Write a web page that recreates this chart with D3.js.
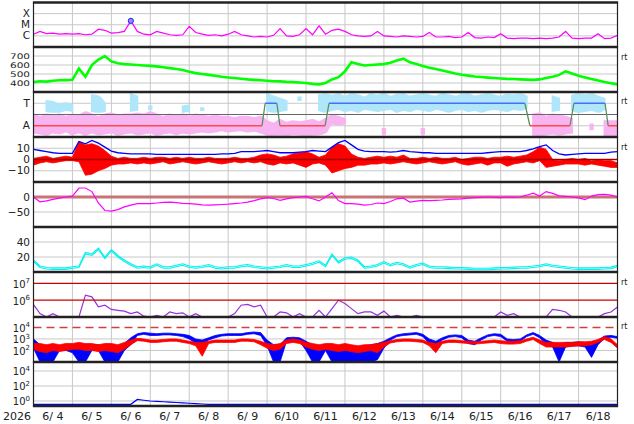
<!DOCTYPE html>
<html lang="en">
<head>
<meta charset="UTF-8">
<title>Space weather summary</title>
<script src="https://d3js.org/d3.v7.min.js"></script>
<style>
  body { margin: 0; background: #fff; }
  text { font-family: "DejaVu Sans", sans-serif; fill: #222; }
</style>
</head>
<body>
<div id="chart"></div>
<script>
// time axis: 15 days from 6/4, one sample every 4 hours (91 samples)
const year = "2026";
const dayLabels = ["6/ 4","6/ 5","6/ 6","6/ 7","6/ 8","6/ 9","6/10","6/11","6/12","6/13","6/14","6/15","6/16","6/17","6/18"];

// X-ray flux, log10 W/m2
const xrayLog = [
  -5.85,-5.6,-5.8,-5.75,-5.85,-5.8,
  -5.85,-5.8,-5.9,-5.85,-5.4,-5.5,
  -5.75,-5.7,-5.6,-4.65,-5.6,-5.85,
  -5.9,-5.6,-5.75,-5.9,-5.95,-5.9,
  -5.15,-5.7,-5.85,-5.95,-5.9,-6.0,
  -5.85,-5.6,-5.9,-6.0,-6.1,-6.05,
  -6.1,-5.95,-5.35,-6.0,-6.05,-5.9,
  -5.35,-5.9,-5.1,-5.85,-5.5,-5.4,
  -5.6,-5.9,-6.0,-6.05,-6.0,-5.6,
  -6.0,-6.05,-6.1,-6.0,-6.05,-6.1,
  -6.05,-5.7,-6.1,-6.1,-6.05,-6.15,
  -6.1,-5.7,-6.15,-6.2,-6.1,-6.15,
  -5.8,-6.2,-6.25,-6.2,-6.2,-6.25,
  -6.2,-6.25,-6.2,-6.1,-5.6,-6.2,
  -6.25,-6.2,-6.2,-5.8,-6.25,-6.2,-5.95
];

// solar wind speed, km/s
const speed = [
  410,420,415,425,430,432,
  435,560,470,600,660,700,
  640,620,610,605,600,595,
  590,585,575,565,555,545,
  525,510,500,490,480,470,
  462,455,448,440,435,430,
  425,420,418,412,410,405,
  400,390,385,400,440,465,
  530,630,610,595,600,605,
  610,625,650,670,630,610,
  590,570,555,540,522,505,
  492,482,472,466,460,455,
  450,446,444,440,437,435,
  440,455,470,490,530,505,
  480,462,445,428,412,398,385
];

// IMF sector clouds (0 = bottom, 1 = top of panel); null = none
const towardHi = [
  null,null,0.8,0.78,0.72,0.75, 0.7,null,null,0.93,0.9,0.75,
  null,null,null,0.95,0.9,null, 0.7,null,null,null,null,0.68,
  0.7,null,0.66,null,null,null, null,null,null,null,null,null,
  0.95,0.9,0.85,0.8,null,0.9, null,null,0.93,0.95,0.92,0.95,
  0.9,0.95,0.93,0.88,0.95,0.92, 0.96,0.9,0.94,0.95,0.9,0.93,
  0.95,0.92,0.9,0.96,0.93,0.9, 0.94,0.95,0.9,0.93,0.95,0.92,
  0.9,0.94,0.93,0.95,0.9,null, null,null,0.9,0.85,null,0.92,
  0.95,0.93,0.95,0.9,0.85,null,null
];
const towardLo = [
  null,null,0.58,0.56,0.56,0.6, 0.58,null,null,0.58,0.56,0.58,
  null,null,null,0.58,0.6,null, 0.6,null,null,null,null,0.56,
  0.58,null,0.58,null,null,null, null,null,null,null,null,null,
  0.6,0.56,0.58,0.6,null,0.8, null,null,0.6,0.56,0.6,0.62,
  0.58,0.6,0.56,0.62,0.6,0.58, 0.6,0.62,0.56,0.6,0.58,0.62,
  0.6,0.58,0.62,0.6,0.56,0.6, 0.62,0.58,0.6,0.56,0.6,0.62,
  0.6,0.58,0.62,0.6,0.65,null, null,null,0.58,0.6,null,0.6,
  0.56,0.58,0.6,0.56,0.62,null,null
];
const awayHi = [
  0.5,0.45,0.5,0.48,0.5,0.45, 0.5,0.48,0.55,0.5,0.45,0.5,
  0.52,0.48,0.5,0.5,0.52,0.5, 0.55,0.5,0.45,0.5,0.48,0.5,
  0.45,0.5,0.48,0.45,0.47,0.45, 0.45,0.42,0.45,0.45,0.42,0.45,
  0.35,0.3,0.38,0.32,0.35,0.33, 0.35,0.38,0.33,0.4,0.48,0.45,
  0.4,null,null,null,null,null, 0.2,null,null,null,null,null,
  0.2,null,null,null,null,null, null,null,null,null,null,null,
  null,null,null,null,null,0.5, 0.52,0.45,0.5,0.48,0.45,0.4,
  null,null,0.3,null,0.35,0.35,0.35
];
const awayLo = [
  0.1,0.08,0.05,0.1,0.08,0.12, 0.06,0.1,0.05,0.1,0.06,0.08,
  0.1,0.05,0.08,0.1,0.06,0.08, 0.1,0.05,0.08,0.1,0.06,0.1,
  0.08,0.1,0.12,0.1,0.12,0.15, 0.12,0.14,0.15,0.12,0.14,0.1,
  0.05,0.04,0.05,0.04,0.06,0.05, 0.04,0.05,0.06,0.1,0.3,0.28,
  0.3,null,null,null,null,null, 0.05,null,null,null,null,null,
  0.05,null,null,null,null,null, null,null,null,null,null,null,
  null,null,null,null,null,0.05, 0.04,0.05,0.08,0.05,0.08,0.1,
  null,null,0.15,null,0.04,0.04,0.04
];
// sector step line: time (days) and sector
const sectorTimes = [0,5.87,5.95,6.25,6.33,7.49,7.59,12.62,12.75,13.78,13.88,14.68,14.76,15];
const sectorValues = ["A","A","T","T","A","A","T","T","A","A","T","T","A","A"];

// IMF total field Bt and Bz range (nT)
const bt = [
  9,8,7,6,5.5,5.5,
  5.5,16,14,17,14.5,11,
  7.5,6,5.5,5,5,5,
  5,4.5,4.5,4.5,4.5,4.5,
  4.5,4.5,4.5,4.5,4.5,5,
  5,5.5,7,7,7,7.5,
  8,7,6,6,6,6.5,
  7,8,7.5,7,11,15,
  17,13,9,7.5,7,7,
  7,6.5,7,8,7,6.5,
  6,6,5.5,5.5,5.5,5.5,
  5.5,5.5,5.5,5.5,6,6.5,
  7,7,7,7,8,9.5,
  11.5,13,8,5,4,4.5,
  5,5.5,5.5,5.5,5.5,6.5,7
];
const bzMax = [
  1,2,3,1,2,3,
  2,16,13,14,12,8,
  3,1,2,1,1,2,
  1,2,2,1,2,1,
  2,1,1,2,1,1,
  1,2,1,1,2,4,
  5,4,2,3,5,6,
  7,5,2,4,11,14,
  12,5,2,1,2,3,
  2,3,2,4,1,1,
  2,1,2,1,1,2,
  0,1,2,2,1,2,
  2,3,2,3,4,7,
  11,9,0,-1,0,1,
  0,1,-1,0,-1,-1,-3
];
const bzMin = [
  -5,-3,-2,-3,-2,-1,
  -1,-2,-14,-13,-10,-8,
  -5,-4,-4,-3,-4,-3,
  -4,-3,-2,-4,-3,-2,
  -3,-4,-3,-2,-3,-4,
  -3,-2,-3,-2,-3,-2,
  -4,-5,-3,-4,-3,-5,
  -7,-4,-3,-5,-12,-10,
  -8,-7,-5,-5,-4,-4,
  -3,-4,-3,-2,-3,-4,
  -3,-2,-3,-4,-3,-2,
  -4,-5,-4,-3,-5,-3,
  -3,-6,-4,-3,-2,-3,
  -1,-7,-6,-5,-4,-4,
  -4,-5,-4,-5,-6,-7,-7
];

// Dst index, nT
const dst = [
  0,-16,-13,-8,-4,0,
  3,30,30,18,-20,-45,
  -47,-42,-33,-27,-22,-22,
  -22,-20,-18,-17,-19,-21,
  -22,-24,-26,-27,-26,-25,
  -24,-22,-20,-17,-12,-6,
  -2,-5,-11,-6,-2,0,
  2,-6,-13,0,14,-12,
  -22,-22,-24,-27,-25,-20,
  -22,-15,-6,-4,-17,-14,
  -11,-12,-11,-10,-8,-7,
  -6,-4,-2,-1,0,-1,
  -2,0,-1,0,6,13,
  3,18,12,4,2,0,
  -3,-9,3,8,9,6,0
];

// proton density panel
const density = [
  14,6,4,3.5,3.5,3.5,
  5,6,24,22,30,18,
  28,20,14,9,5,6,
  5,9,5,5,7,9,
  6,5,6,8,5,4,
  5,5,7,8,6,5,
  4,5,6,8,6,6,
  8,10,13,7,22,12,
  17,18,14,5,6,8,
  12,8,11,9,5,8,
  10,6,5,5,4.5,4,
  4,3.5,3,3,3,3.5,
  4,4,4.5,5,5,6,
  7,9,7,6,5,4,
  3.5,3.5,3.5,3.5,4,4.5,7
];

// electron fluence, log10
const fluenceLog = [
  5.74,5.2,4.9,5.2,4.9,4.9,
  4.9,4.9,6.3,6.2,5.6,5.7,
  5.45,5.4,5.35,5.2,5.3,5.05,
  4.9,5.1,4.9,5.3,5.2,5.25,
  4.9,5.2,4.9,4.9,4.9,4.9,
  4.9,5.2,5.7,5.75,5.6,5.7,
  4.9,4.9,5.3,5.25,4.9,5.2,
  4.9,4.9,5.4,4.9,5.5,6.0,
  5.8,5.5,5.2,5.3,5.3,5.1,
  5.35,4.9,5.1,4.9,4.9,5.1,
  4.9,4.9,4.9,4.9,4.9,4.9,
  5.0,4.9,4.9,4.9,4.9,4.9,
  5.3,5.1,5.2,4.9,4.9,4.9,
  4.9,4.9,5.45,5.4,5.3,4.9,
  4.9,4.9,4.9,4.9,5.2,5.3,5.6
];

// electron flux (blue) and second channel (red), log10 range per sample
const fluxBlueMax = [
  3.0,2.5,2.4,2.4,2.4,2.4,
  2.4,2.4,2.5,2.5,2.5,2.4,
  2.4,2.4,2.6,3.1,3.45,3.55,
  3.5,3.45,3.5,3.5,3.45,3.4,
  3.3,3.0,2.9,3.1,3.3,3.4,
  3.45,3.45,3.45,3.55,3.6,3.55,
  2.9,2.5,2.5,3.1,3.15,3.1,
  2.8,2.5,2.4,2.5,2.5,2.4,
  2.4,2.4,2.3,2.4,2.5,2.6,
  2.8,3.1,3.35,3.45,3.5,3.55,
  3.4,3.0,2.8,3.1,3.3,3.35,
  3.3,2.9,2.8,3.1,3.35,3.45,
  3.4,3.0,2.95,3.0,3.35,3.55,
  3.3,2.9,2.7,2.5,2.7,2.7,
  2.75,2.7,2.5,2.9,3.25,3.3,3.2
];
const fluxBlueMin = [
  2.2,1.0,1.0,1.0,2.0,2.0,
  1.8,1.0,1.0,2.0,2.0,1.0,
  1.0,1.0,2.0,2.5,3.3,3.4,
  3.3,3.3,3.35,3.35,3.3,3.2,
  3.0,2.6,2.4,2.9,3.1,3.25,
  3.3,3.3,3.3,3.4,3.45,3.3,
  2.4,1.0,1.0,2.8,2.9,2.8,
  2.0,1.0,1.0,2.0,1.0,1.0,
  1.0,1.0,1.0,1.0,1.0,1.2,
  2.2,2.9,3.2,3.3,3.35,3.4,
  3.2,2.6,2.4,2.9,3.15,3.2,
  3.1,2.6,2.5,2.9,3.2,3.3,
  3.2,2.8,2.7,2.8,3.2,3.4,
  3.1,2.5,2.3,1.0,2.3,2.4,
  2.4,2.3,1.4,2.5,3.05,3.15,3.05
];
const fluxRedMax = [
  2.6,2.6,2.5,2.6,2.5,2.6,
  2.6,2.7,2.6,2.6,2.5,2.6,
  2.6,2.5,2.7,2.9,3.05,3.0,
  2.9,2.9,2.95,3.0,3.0,2.9,
  2.8,2.7,2.7,2.8,2.9,2.9,
  2.9,2.9,3.0,3.0,2.95,2.8,
  2.6,2.5,2.6,2.9,3.0,2.9,
  2.7,2.6,2.5,2.6,2.6,2.5,
  2.6,2.5,2.4,2.5,2.5,2.6,
  2.7,2.85,2.95,3.0,3.0,2.95,
  2.9,2.7,2.6,2.8,2.9,2.9,
  2.85,2.8,2.75,2.8,2.85,2.9,
  2.85,2.8,2.8,2.85,3.0,3.15,
  2.9,2.7,2.7,2.7,2.7,2.7,
  2.75,2.75,2.8,2.95,3.2,3.0,2.5
];
const fluxRedMin = [
  2.1,1.9,1.8,2.0,1.9,2.0,
  2.1,2.1,2.0,2.0,1.9,2.0,
  1.9,1.8,2.1,2.5,2.85,2.8,
  2.7,2.7,2.75,2.8,2.8,2.7,
  2.6,2.4,1.5,2.6,2.7,2.7,
  2.7,2.7,2.8,2.8,2.75,2.5,
  2.2,2.0,2.1,2.6,2.7,2.6,
  2.3,2.1,2.0,2.1,2.0,1.9,
  2.0,1.9,1.8,1.9,2.0,1.8,
  2.3,2.65,2.75,2.8,2.8,2.75,
  2.7,2.4,1.8,2.6,2.7,2.7,
  2.65,2.6,2.55,2.6,2.65,2.7,
  2.6,2.55,2.55,2.6,2.8,2.95,
  2.6,2.3,2.3,2.3,2.3,2.35,
  2.4,2.4,2.5,2.7,2.95,2.7,2.2
];

// bottom panel flux, log10
const lowFluxLog = [
  -0.45,-0.45,-0.45,-0.45,-0.45,-0.45,
  -0.45,-0.45,-0.45,-0.45,-0.45,-0.45,
  -0.45,-0.45,-0.45,-0.45,0.2,0.1,
  0.0,-0.05,-0.1,-0.15,-0.2,-0.25,
  -0.3,-0.35,-0.4,-0.45,-0.45,-0.45,
  -0.45,-0.45,-0.45,-0.45,-0.45,-0.45,
  -0.45,-0.45,-0.45,-0.45,-0.45,-0.45,
  -0.45,-0.45,-0.45,-0.45,-0.45,-0.45,
  -0.45,-0.45,-0.45,-0.45,-0.45,-0.45,
  -0.45,-0.45,-0.45,-0.45,-0.45,-0.45,
  -0.45,-0.45,-0.45,-0.45,-0.45,-0.45,
  -0.45,-0.45,-0.45,-0.45,-0.45,-0.45,
  -0.45,-0.45,-0.45,-0.45,-0.45,-0.45,
  -0.45,-0.45,-0.45,-0.45,-0.45,-0.45,
  -0.45,-0.45,-0.45,-0.45,-0.45,-0.45,-0.45
];

const width = 634, height = 424;
const tops = [2.5, 47, 92, 137, 182, 227, 272, 317, 362, 406];
const stepDays = 1 / 6;

const svg = d3.select("#chart").append("svg")
    .attr("width", width).attr("height", height);

const x = d3.scaleLinear().domain([0, 15]).range([33.5, 617.5]);
const tOf = i => i * stepDays;
const pw = 10;

// y scales, one per panel
const yr = p => [tops[p + 1], tops[p]];
const y = [
  d3.scaleLog().domain([1e-7, 1e-3]).range(yr(0)),
  d3.scaleLinear().domain([300, 800]).range(yr(1)),
  d3.scaleLinear().domain([0, 1]).range(yr(2)),
  d3.scaleLinear().domain([-20, 20]).range(yr(3)),
  d3.scaleLinear().domain([-100, 50]).range(yr(4)),
  d3.scaleLinear().domain([0, 60]).range(yr(5)),
  d3.scaleLog().domain([1e5, Math.pow(pw, 7.68)]).range(yr(6)).clamp(true),
  d3.scaleLog().domain([10, Math.pow(pw, 4.9)]).range(yr(7)).clamp(true),
  d3.scaleLog().domain([Math.pow(pw, -0.67), Math.pow(pw, 5.2)]).range(yr(8)).clamp(true)
];

// clip paths
const defs = svg.append("defs");
y.forEach((s, p) => {
  defs.append("clipPath").attr("id", "clip" + p)
    .append("rect").attr("x", x(0)).attr("y", tops[p])
    .attr("width", x(15) - x(0)).attr("height", tops[p + 1] - tops[p]);
});

// vertical day grid
const grid = svg.append("g");
grid.selectAll("line.v").data(d3.range(1, 15)).join("line")
    .attr("x1", d => x(d)).attr("x2", d => x(d))
    .attr("y1", tops[0]).attr("y2", tops[9])
    .attr("stroke", "#c8c8c8").attr("stroke-width", 1);

// horizontal grid per panel
const hgrid = [
  [1e-6, 1e-5, 1e-4], [400, 500, 600, 700], [0.25, 0.75], [-10, 10],
  [-50], [20, 40], [], [100, 1000], [1, 100, 10000]
];
hgrid.forEach((vals, p) => {
  grid.selectAll("line.h" + p).data(vals).join("line")
    .attr("x1", x(0)).attr("x2", x(15))
    .attr("y1", d => y[p](d)).attr("y2", d => y[p](d))
    .attr("stroke", "#c8c8c8").attr("stroke-width", 1);
});

const layer = p => svg.append("g").attr("clip-path", "url(#clip" + p + ")");
const lineOf = (p, f) => d3.line().x((d, i) => x(tOf(i))).y(d => y[p](f ? f(d) : d));
const exp10 = d => Math.pow(pw, d);

// panel 0: X-ray
const g0 = layer(0);
g0.append("path").datum(xrayLog).attr("d", lineOf(0, exp10))
  .attr("fill", "none").attr("stroke", "#ff00ff").attr("stroke-width", 1.2);
const peak = d3.maxIndex(xrayLog);
svg.append("circle").attr("cx", x(tOf(peak))).attr("cy", y[0](exp10(xrayLog[peak])))
  .attr("r", 2.6).attr("fill", "#9090ff").attr("stroke", "#2020ff").attr("stroke-width", 1);

// panel 1: speed
layer(1).append("path").datum(speed).attr("d", lineOf(1))
  .attr("fill", "none").attr("stroke", "#00ff00").attr("stroke-width", 2.6);

// panel 2: sector
const g2 = layer(2);
const bin = x(stepDays) - x(0);
const clouds = (hi, lo, color) => {
  // contiguous runs as areas, lone samples as narrow blocks
  const runs = [];
  hi.forEach((h, i) => {
    if (h === null) return;
    const last = runs[runs.length - 1];
    if (last && last[last.length - 1] === i - 1) last.push(i); else runs.push([i]);
  });
  runs.forEach(run => {
    if (run.length === 1) {
      const i = run[0];
      g2.append("rect").attr("x", x(tOf(i)) - bin / 3).attr("width", bin * 2 / 3)
        .attr("y", y[2](hi[i])).attr("height", y[2](lo[i]) - y[2](hi[i]))
        .attr("fill", color);
    } else {
      g2.append("path").datum(run)
        .attr("d", d3.area().curve(d3.curveMonotoneX)
          .x(i => x(tOf(i))).y0(i => y[2](lo[i])).y1(i => y[2](hi[i])))
        .attr("fill", color).attr("stroke", color).attr("stroke-width", 2);
    }
  });
};
clouds(awayHi, awayLo, "#f7b4f1");
clouds(towardHi, towardLo, "#b0e6fa");
g2.append("line").attr("x1", x(0)).attr("x2", x(15))
  .attr("y1", y[2](0.5)).attr("y2", y[2](0.5)).attr("stroke", "#666").attr("stroke-width", 1);
const level = { A: 0.25, T: 0.75 };
d3.range(sectorTimes.length - 1).forEach(k => {
  const a = sectorValues[k], b = sectorValues[k + 1];
  g2.append("line")
    .attr("x1", x(sectorTimes[k])).attr("x2", x(sectorTimes[k + 1]))
    .attr("y1", y[2](level[a])).attr("y2", y[2](level[b]))
    .attr("stroke", a !== b ? "#5e8c5e" : (a === "A" ? "#ff4a4a" : "#4a6cff"))
    .attr("stroke-width", 1.3);
});

// panel 3: Bt / Bz
const g3 = layer(3);
g3.append("path").datum(bzMax)
  .attr("d", d3.area().x((d, i) => x(tOf(i))).y0((d, i) => y[3](bzMin[i])).y1(d => y[3](d)))
  .attr("fill", "#ff0000").attr("stroke", "#ff0000").attr("stroke-width", 0.8);
g3.append("path").datum(bt).attr("d", lineOf(3))
  .attr("fill", "none").attr("stroke", "#0000ff").attr("stroke-width", 1.3);
g3.append("line").attr("x1", x(0)).attr("x2", x(15))
  .attr("y1", y[3](0)).attr("y2", y[3](0)).attr("stroke", "#a00000").attr("stroke-width", 1.3);

// panel 4: Dst
const g4 = layer(4);
g4.append("line").attr("x1", x(0)).attr("x2", x(15))
  .attr("y1", y[4](0)).attr("y2", y[4](0)).attr("stroke", "#c87474").attr("stroke-width", 3);
g4.append("path").datum(dst).attr("d", lineOf(4))
  .attr("fill", "none").attr("stroke", "#ff00ff").attr("stroke-width", 1.2);

// panel 5: density
const g5 = layer(5);
[0, -1.5].forEach(dy => {
  g5.append("path").datum(density).attr("d", lineOf(5))
    .attr("transform", "translate(0," + dy + ")")
    .attr("fill", "none").attr("stroke", "#00f0f0").attr("stroke-width", 1.1);
});

// panel 6: fluence
const g6 = layer(6);
g6.append("path").datum(fluenceLog).attr("d", lineOf(6, exp10))
  .attr("fill", "none").attr("stroke", "#9b30d9").attr("stroke-width", 1.2);
g6.selectAll(null).data([1e6, 1e7]).join("line")
  .attr("x1", x(0)).attr("x2", x(15))
  .attr("y1", d => y[6](d)).attr("y2", d => y[6](d))
  .attr("stroke", "#cc0000").attr("stroke-width", 1.2);

// panel 7: electron flux
const g7 = layer(7);
const band = (hi, lo, color) => g7.append("path").datum(hi)
  .attr("d", d3.area().x((d, i) => x(tOf(i))).y0((d, i) => y[7](exp10(lo[i]))).y1(d => y[7](exp10(d))))
  .attr("fill", color).attr("stroke", color).attr("stroke-width", 0.8);
band(fluxBlueMax, fluxBlueMin, "#0000ff");
band(fluxRedMax, fluxRedMin, "#ff0000");
g7.append("line").attr("x1", x(0)).attr("x2", x(15))
  .attr("y1", y[7](1e4)).attr("y2", y[7](1e4))
  .attr("stroke", "#d04040").attr("stroke-width", 1.5).attr("stroke-dasharray", "8,5");

// panel 8: bottom flux
layer(8).append("path").datum(lowFluxLog).attr("d", lineOf(8, exp10))
  .attr("fill", "none").attr("stroke", "#0000ff").attr("stroke-width", 1.2);

// frames
const frame = svg.append("g");
frame.append("line").attr("x1", x(0)).attr("x2", x(0)).attr("y1", tops[0]).attr("y2", tops[9])
  .attr("stroke", "#222").attr("stroke-width", 1.2);
frame.append("line").attr("x1", x(15)).attr("x2", x(15)).attr("y1", tops[0]).attr("y2", tops[9])
  .attr("stroke", "#222").attr("stroke-width", 1.2);
frame.selectAll("line.sep").data(tops).join("line")
  .attr("x1", x(0) - 0.6).attr("x2", x(15) + 0.6)
  .attr("y1", d => d).attr("y2", d => d)
  .attr("stroke", "#222").attr("stroke-width", 2.6);

// y labels
const lab = svg.append("g").attr("font-size", 10);
const plainLabels = [
  [0, [[1e-4, "X"], [1e-5, "M"], [1e-6, "C"]]],
  [1, [[700, "700"], [600, "600"], [500, "500"], [400, "400"]]],
  [2, [[0.75, "T"], [0.25, "A"]]],
  [3, [[10, "10"], [0, "0"], [-10, "\u221210"]]],
  [4, [[0, "0"], [-50, "\u221250"]]],
  [5, [[40, "40"], [20, "20"]]]
];
plainLabels.forEach(([p, list]) => {
  list.forEach(([v, t]) => {
    const el = lab.append("text").attr("x", 30).attr("text-anchor", "end").text(t);
    if (p === 1) {
      // tightly packed speed ticks: short, wide digits
      el.attr("y", y[p](v) + 3).attr("font-size", 7.6)
        .attr("textLength", 20).attr("lengthAdjust", "spacingAndGlyphs");
    } else {
      el.attr("y", y[p](v) + 3.6).attr("font-size", 10.5);
    }
  });
});
const powLabels = [[6, [7, 6]], [7, [4, 3, 2]], [8, [4, 2, 0]]];
powLabels.forEach(([p, list]) => {
  list.forEach(e => {
    const t = lab.append("text").attr("x", 30).attr("y", y[p](exp10(e)) + 4.5)
      .attr("text-anchor", "end");
    t.append("tspan").text("10");
    t.append("tspan").attr("font-size", 7).attr("dy", -4.5).text(e);
  });
});

// right side marks
const rt = [[1, 57], [2, 101], [3, 147], [6, 282], [7, 326]];
svg.selectAll("text.rt").data(rt).join("text")
  .attr("x", 621).attr("y", d => d[1] + 3).attr("font-size", 8).text("rt");

// bottom axis
const axisG = svg.append("g").attr("font-size", 11);
axisG.append("text").attr("x", 31).attr("y", 420).attr("text-anchor", "end").text(year);
axisG.selectAll("text.d").data(dayLabels).join("text")
  .attr("x", (d, i) => x(i + 0.5)).attr("y", 420)
  .attr("text-anchor", "middle").style("white-space", "pre").text(d => d);
</script>
</body>
</html>
